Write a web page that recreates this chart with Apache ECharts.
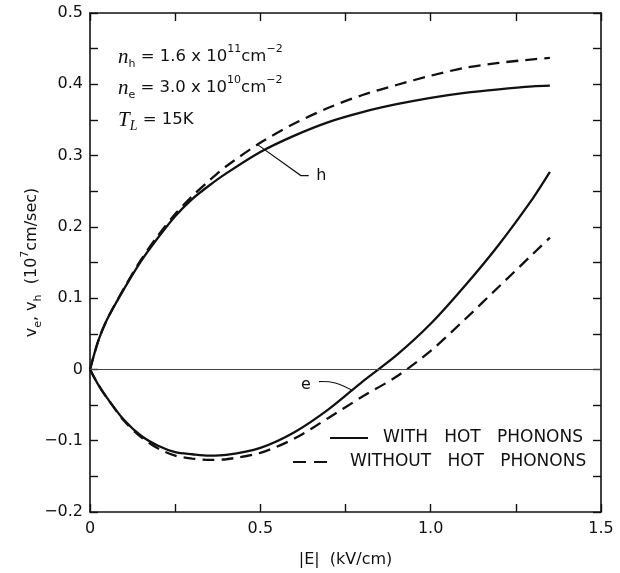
<!DOCTYPE html>
<html>
<head>
<meta charset="utf-8">
<script src="https://cdn.jsdelivr.net/npm/echarts@6/dist/echarts.min.js"></script>
<style>
html, body { margin: 0; padding: 0; background: #fff; }
#chart { width: 620px; height: 573px; }
</style>
</head>
<body>
<div id="chart"></div>
<script>
// field |E| (kV/cm)
const field = [0, 0.025, 0.05, 0.1, 0.15, 0.2, 0.25, 0.3, 0.35, 0.4, 0.5, 0.6, 0.7, 0.8, 0.9, 1.0, 1.1, 1.2, 1.3, 1.35];
// hole drift velocity (10^7 cm/sec)
const vhWith = [0, 0.041, 0.07, 0.113, 0.152, 0.185, 0.215, 0.239, 0.258, 0.275, 0.305, 0.328, 0.347, 0.361, 0.372, 0.381, 0.388, 0.393, 0.397, 0.398];
const vhWithout = [0, 0.041, 0.07, 0.114, 0.154, 0.188, 0.218, 0.243, 0.265, 0.285, 0.318, 0.345, 0.367, 0.385, 0.399, 0.412, 0.423, 0.430, 0.435, 0.437];
// electron drift velocity
const veWith = [0, -0.022, -0.04, -0.071, -0.093, -0.107, -0.116, -0.119, -0.121, -0.12, -0.11, -0.088, -0.056, -0.017, 0.02, 0.064, 0.117, 0.175, 0.24, 0.277];
const veWithout = [0, -0.022, -0.04, -0.072, -0.095, -0.111, -0.121, -0.125, -0.127, -0.126, -0.117, -0.097, -0.068, -0.038, -0.01, 0.026, 0.07, 0.116, 0.162, 0.185];

const xTicks = [0, 0.5, 1.0, 1.5];
const xTickLabels = ['0', '0.5', '1.0', '1.5'];
const yTicks = [-0.2, -0.1, 0, 0.1, 0.2, 0.3, 0.4, 0.5];
const yTickLabels = ['\u22120.2', '\u22120.1', '0', '0.1', '0.2', '0.3', '0.4', '0.5'];

const nameWith = 'WITH   HOT   PHONONS';
const nameWithout = 'WITHOUT   HOT   PHONONS';

const ink = '#111';
const font = 'DejaVu Sans';

function pairs(xs, ys) {
    return xs.map((x, i) => [x, ys[i]]);
}
function pickLabel(ticks, labels) {
    return function(v) {
        for (let i = 0; i < ticks.length; i++) {
            if (Math.abs(ticks[i] - v) < 1e-6) return labels[i];
        }
        return '';
    };
}

const chart = echarts.init(document.getElementById('chart'));

const axisCommon = {
    axisLine: { show: true, onZero: false, lineStyle: { color: ink, width: 1.6 } },
    axisTick: { show: true, inside: true, length: 8, lineStyle: { color: ink, width: 1.4 } },
    splitLine: { show: false }
};

const lineCommon = {
    type: 'line',
    showSymbol: false,
    symbol: 'none',
    smooth: 0.3,
    silent: true,
    animation: false
};

const option = {
    animation: false,
    backgroundColor: '#fff',
    grid: { left: 90, right: 19, top: 13, bottom: 59 },
    xAxis: [
        Object.assign({}, axisCommon, {
            type: 'value', min: 0, max: 1.5, interval: 0.25, position: 'bottom',
            axisLabel: {
                formatter: pickLabel(xTicks, xTickLabels),
                color: ink, fontFamily: font, fontSize: 16, margin: 9
            },
            name: '|E|  (kV/cm)',
            nameLocation: 'middle',
            nameGap: 40,
            nameTextStyle: { color: ink, fontFamily: font, fontSize: 16 }
        }),
        Object.assign({}, axisCommon, {
            type: 'value', min: 0, max: 1.5, interval: 0.25, position: 'top',
            axisLabel: { show: false }
        })
    ],
    yAxis: [
        Object.assign({}, axisCommon, {
            type: 'value', min: -0.2, max: 0.5, interval: 0.05, position: 'left',
            axisLabel: {
                formatter: pickLabel(yTicks, yTickLabels),
                color: ink, fontFamily: font, fontSize: 16, margin: 7
            },
            name: 'v{sub|e}, v{sub|h}  (10{sup|7}cm/sec)',
            nameLocation: 'middle',
            nameGap: 46,
            nameMoveOverlap: false,
            nameTextStyle: {
                color: ink, fontFamily: font, fontSize: 16, lineHeight: 24,
                rich: {
                    sub: { fontSize: 11, fontFamily: font, color: ink, verticalAlign: 'bottom', lineHeight: 24 },
                    sup: { fontSize: 11, fontFamily: font, color: ink, verticalAlign: 'top', lineHeight: 24 }
                }
            }
        }),
        Object.assign({}, axisCommon, {
            type: 'value', min: -0.2, max: 0.5, interval: 0.05, position: 'right',
            axisLabel: { show: false }
        })
    ],
    series: [
        Object.assign({}, lineCommon, {
            name: nameWith,
            data: pairs(field, vhWith),
            lineStyle: { color: ink, width: 2.3, type: 'solid' },
            markLine: {
                silent: true, symbol: 'none', label: { show: false },
                lineStyle: { color: '#444', width: 1, type: 'solid' },
                data: [{ yAxis: 0 }]
            }
        }),
        Object.assign({}, lineCommon, {
            name: nameWithout,
            data: pairs(field, vhWithout),
            lineStyle: { color: ink, width: 2.3, type: [12, 7] }
        }),
        Object.assign({}, lineCommon, {
            name: nameWith,
            data: pairs(field, veWith),
            lineStyle: { color: ink, width: 2.3, type: 'solid' }
        }),
        Object.assign({}, lineCommon, {
            name: nameWithout,
            data: pairs(field, veWithout),
            lineStyle: { color: ink, width: 2.3, type: [12, 7] }
        })
    ]
};

chart.setOption(option);

// leader lines and curve labels, placed in data coordinates
const hLeader = [[0.493, 0.315], [0.619, 0.272], [0.642, 0.272]];
const eLeader = [[0.672, -0.017], [0.72, -0.019], [0.772, -0.03]];
const hLabelAt = [0.664, 0.272];
const eLabelAt = [0.648, -0.021];

const px = p => chart.convertToPixel({ gridIndex: 0 }, p);

const textRich = {
    it: { fontFamily: 'Liberation Serif', fontStyle: 'italic', fontSize: 21, fill: ink },
    sub: { fontFamily: font, fontSize: 11, fill: ink, verticalAlign: 'bottom', lineHeight: 26 },
    subit: { fontFamily: 'Liberation Serif', fontStyle: 'italic', fontSize: 14, fill: ink, verticalAlign: 'bottom', lineHeight: 26 },
    sup: { fontFamily: font, fontSize: 11, fill: ink, verticalAlign: 'top', lineHeight: 26 },
    n: { fontFamily: font, fontSize: 16.5, fill: ink }
};

const legendFont = '17px "DejaVu Sans"';

chart.setOption({
    graphic: [
        {
            type: 'polyline', silent: true,
            shape: { points: hLeader.map(px) },
            style: { stroke: ink, lineWidth: 1.2, fill: null }
        },
        {
            type: 'polyline', silent: true,
            shape: { points: eLeader.map(px), smooth: 0.4 },
            style: { stroke: ink, lineWidth: 1.2, fill: null }
        },
        {
            type: 'text', silent: true,
            x: px(hLabelAt)[0], y: px(hLabelAt)[1],
            style: { text: 'h', font: '16px "DejaVu Sans"', fill: ink, align: 'left', verticalAlign: 'middle' }
        },
        {
            type: 'text', silent: true,
            x: px(eLabelAt)[0], y: px(eLabelAt)[1],
            style: { text: 'e', font: '16px "DejaVu Sans"', fill: ink, align: 'right', verticalAlign: 'middle' }
        },
        {
            type: 'text', silent: true, x: 118, y: 57,
            style: {
                text: '{it|n}{sub|h}{n| = 1.6 x 10}{sup|11}{n|cm}{sup|\u22122}',
                rich: textRich, verticalAlign: 'middle', lineHeight: 26
            }
        },
        {
            type: 'text', silent: true, x: 118, y: 88,
            style: {
                text: '{it|n}{sub|e}{n| = 3.0 x 10}{sup|10}{n|cm}{sup|\u22122}',
                rich: textRich, verticalAlign: 'middle', lineHeight: 26
            }
        },
        {
            type: 'text', silent: true, x: 118, y: 120,
            style: {
                text: '{it|T}{subit|L}{n| = 15K}',
                rich: textRich, verticalAlign: 'middle', lineHeight: 26
            }
        },
        // legend
        {
            type: 'line', silent: true,
            shape: { x1: 330, y1: 438, x2: 368, y2: 438 },
            style: { stroke: ink, lineWidth: 2 }
        },
        {
            type: 'text', silent: true, x: 383, y: 438,
            style: { text: nameWith, font: legendFont, fill: ink, align: 'left', verticalAlign: 'middle' }
        },
        {
            type: 'line', silent: true,
            shape: { x1: 293, y1: 462, x2: 334, y2: 462 },
            style: { stroke: ink, lineWidth: 2, lineDash: [13, 8] }
        },
        {
            type: 'text', silent: true, x: 350, y: 462,
            style: { text: nameWithout, font: legendFont, fill: ink, align: 'left', verticalAlign: 'middle' }
        }
    ]
});
</script>
</body>
</html>
